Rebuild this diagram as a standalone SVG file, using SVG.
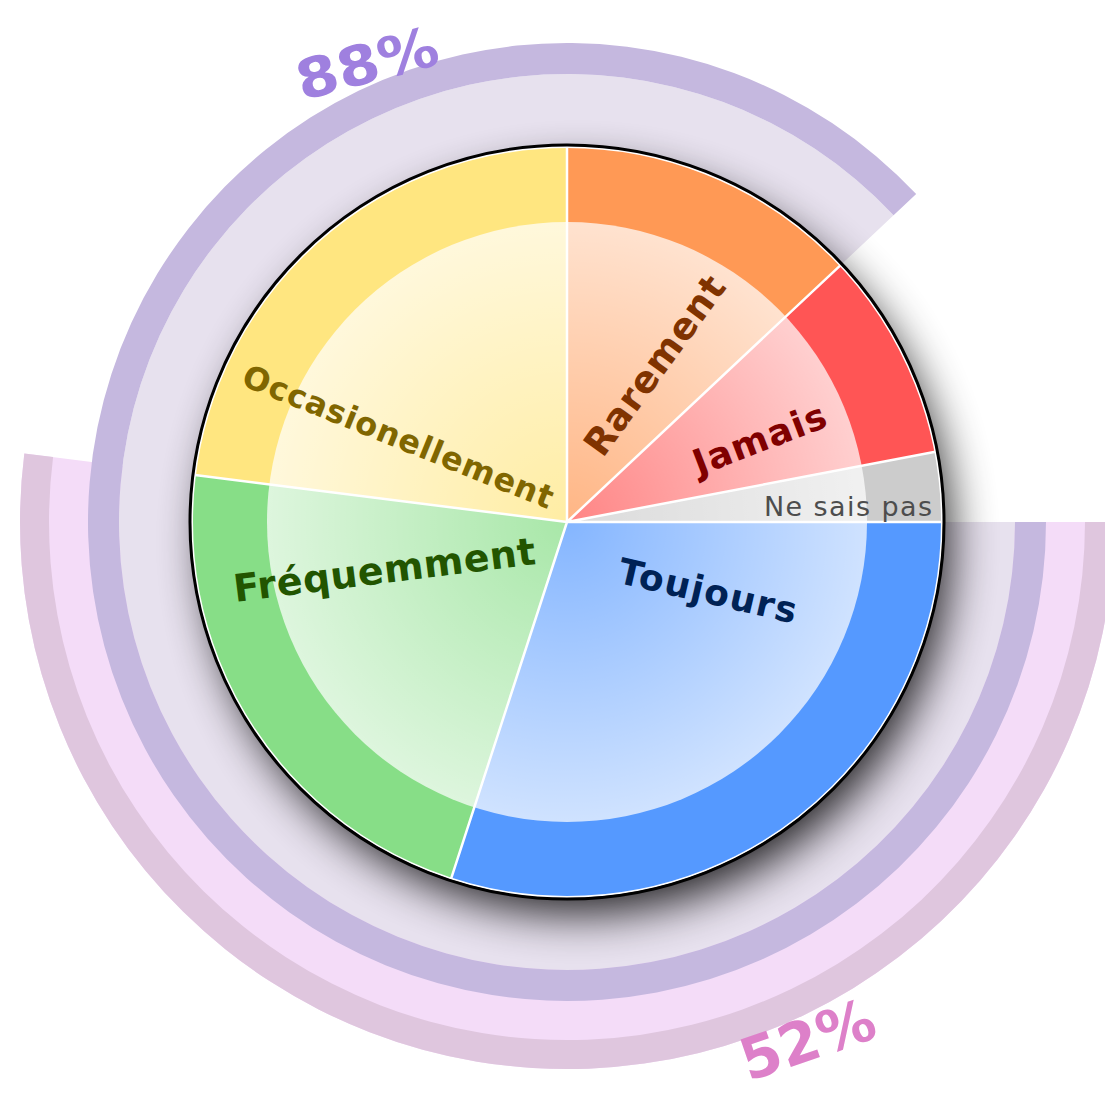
<svg xmlns="http://www.w3.org/2000/svg" width="1105" height="1095" viewBox="0 0 1105 1095">
<style>
.lbl{font-family:"DejaVu Sans","Liberation Sans",sans-serif;font-weight:bold;text-anchor:middle}
.sep{stroke:#ffffff;stroke-width:2.5;fill:none}
</style>
<defs>
<filter id="blur" x="-30%" y="-30%" width="160%" height="160%"><feGaussianBlur stdDeviation="23"/></filter>
<radialGradient id="glow" cx="567" cy="522" r="300" gradientUnits="userSpaceOnUse">
<stop offset="0" stop-color="#fff" stop-opacity="0.28"/>
<stop offset="1" stop-color="#fff" stop-opacity="0.72"/>
</radialGradient>
<clipPath id="pieclip"><circle cx="567" cy="522" r="375"/></clipPath>
</defs>
<rect width="1105" height="1095" fill="#ffffff"/>
<g id="arc52">
<path d="M567,522 L24.32,453.44 A547,547 0 1 0 1114,522 Z" fill="#f4dcf8"/>
<path d="M24.32,453.44 A547,547 0 1 0 1114,522 L1085,522 A518,518 0 1 1 53.09,457.08 Z" fill="#dfc6de"/>
<text class="lbl" transform="translate(814,1059) rotate(-19)" font-size="58" fill="#dd80c9">52%</text>
</g>
<g id="arc88">
<path d="M567,522 L893.58,215.32 A448,448 0 1 0 1015,522 Z" fill="#e7e1ee"/>
<path d="M916.18,194.1 A479,479 0 1 0 1046,522 L1015,522 A448,448 0 1 1 893.58,215.32 Z" fill="#c5b8df"/>
<text class="lbl" transform="translate(372,82) rotate(-15) scale(1.1,1)" font-size="55" fill="#9f80df">88%</text>
</g>
<circle id="shadow" cx="578" cy="542" r="372" fill="#000" opacity="0.85" filter="url(#blur)"/>
<g id="pie">
<g id="toujours"><path d="M567,522 L451.12,878.65 A375,375 0 0 0 942,522 Z" fill="#5599ff"/></g>
<g id="frequemment"><path d="M567,522 L194.96,475 A375,375 0 0 0 451.12,878.65 Z" fill="#87de87"/></g>
<g id="occasionellement"><path d="M567,522 L567,147 A375,375 0 0 0 194.96,475 Z" fill="#ffe680"/></g>
<g id="rarement"><path d="M567,522 L840.36,265.29 A375,375 0 0 0 567,147 Z" fill="#ff9955"/></g>
<g id="jamais"><path d="M567,522 L935.36,451.73 A375,375 0 0 0 840.36,265.29 Z" fill="#ff5555"/></g>
<g id="nesaispas"><path d="M567,522 L942,522 A375,375 0 0 0 935.36,451.73 Z" fill="#cccccc"/></g>
<circle cx="567" cy="522" r="300" fill="url(#glow)"/>
<g clip-path="url(#pieclip)">
<path class="sep" d="M567,522 L942,522 M567,522 L935.36,451.73 M567,522 L840.36,265.29 M567,522 L567,147 M567,522 L194.96,475 M567,522 L451.12,878.65"/>
</g>
<circle cx="567" cy="522" r="375" fill="none" stroke="#ffffff" stroke-width="2"/>
<circle cx="567" cy="522" r="377" fill="none" stroke="#000000" stroke-width="3"/>
</g>
<g id="labels">
<text class="lbl" transform="translate(394,447) rotate(22)" font-size="32" fill="#806600" textLength="332" lengthAdjust="spacing">Occasionellement</text>
<text class="lbl" transform="translate(665,373) rotate(-54)" font-size="37" fill="#803300" textLength="212" lengthAdjust="spacing">Rarement</text>
<text class="lbl" transform="translate(764,451) rotate(-21)" font-size="36" fill="#800000" textLength="140" lengthAdjust="spacing">Jamais</text>
<text x="848" y="516" font-family="DejaVu Sans, Liberation Sans, sans-serif" font-size="27" fill="#4d4d4d" text-anchor="middle" textLength="168" lengthAdjust="spacing">Ne sais pas</text>
<text class="lbl" transform="translate(386,583) rotate(-7.2)" font-size="38" fill="#225500" textLength="304" lengthAdjust="spacing">Fréquemment</text>
<text class="lbl" transform="translate(705,603) rotate(13)" font-size="36" fill="#002255" textLength="182" lengthAdjust="spacing">Toujours</text>
</g>
</svg>
